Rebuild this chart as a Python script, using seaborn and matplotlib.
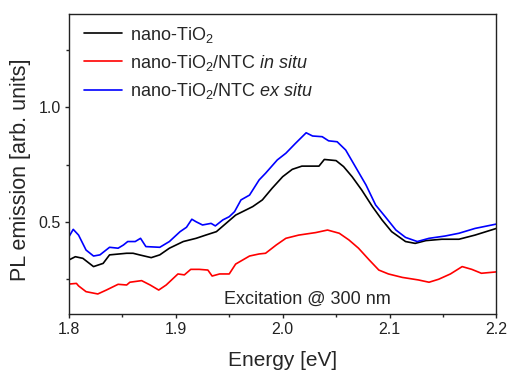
import matplotlib
matplotlib.use("Agg")
import matplotlib.pyplot as plt
from matplotlib.ticker import MultipleLocator
import seaborn as sns
import pandas as pd

# PL spectra
energy_tio2 = [1.800, 1.806, 1.813, 1.823, 1.832, 1.838, 1.854, 1.860, 1.866, 1.877,
               1.885, 1.894, 1.907, 1.919, 1.928, 1.938, 1.947, 1.956, 1.972, 1.981,
               1.990, 2.000, 2.009, 2.018, 2.034, 2.039, 2.050, 2.057, 2.065, 2.074,
               2.084, 2.093, 2.102, 2.115, 2.124, 2.134, 2.149, 2.165, 2.180, 2.200]
pl_tio2 = [0.335, 0.349, 0.342, 0.306, 0.320, 0.357, 0.364, 0.364, 0.357, 0.345,
           0.357, 0.386, 0.415, 0.429, 0.443, 0.458, 0.494, 0.530, 0.567, 0.596,
           0.646, 0.697, 0.729, 0.743, 0.743, 0.772, 0.767, 0.741, 0.697, 0.639,
           0.567, 0.509, 0.458, 0.415, 0.407, 0.419, 0.425, 0.425, 0.443, 0.472]

energy_insitu = [1.800, 1.807, 1.809, 1.816, 1.827, 1.835, 1.846, 1.854, 1.857, 1.868,
                 1.876, 1.884, 1.891, 1.902, 1.908, 1.914, 1.922, 1.930, 1.934, 1.941,
                 1.950, 1.956, 1.969, 1.978, 1.984, 1.994, 2.003, 2.015, 2.031, 2.042,
                 2.053, 2.062, 2.071, 2.081, 2.090, 2.099, 2.112, 2.127, 2.137, 2.146,
                 2.157, 2.168, 2.177, 2.186, 2.200]
pl_insitu = [0.230, 0.233, 0.222, 0.197, 0.187, 0.204, 0.229, 0.226, 0.238, 0.245,
             0.226, 0.204, 0.226, 0.274, 0.270, 0.294, 0.294, 0.291, 0.265, 0.274,
             0.274, 0.317, 0.352, 0.361, 0.364, 0.400, 0.429, 0.443, 0.454, 0.465,
             0.451, 0.422, 0.386, 0.335, 0.291, 0.274, 0.259, 0.248, 0.238, 0.251,
             0.274, 0.306, 0.294, 0.277, 0.283]

energy_exsitu = [1.800, 1.804, 1.809, 1.816, 1.823, 1.829, 1.838, 1.846, 1.851, 1.855,
                 1.862, 1.867, 1.872, 1.885, 1.894, 1.904, 1.910, 1.915, 1.919, 1.925,
                 1.933, 1.937, 1.944, 1.950, 1.955, 1.961, 1.969, 1.978, 1.984, 1.995,
                 2.003, 2.012, 2.022, 2.028, 2.037, 2.043, 2.051, 2.059, 2.068, 2.078,
                 2.087, 2.096, 2.106, 2.115, 2.126, 2.137, 2.152, 2.165, 2.180, 2.200]
pl_exsitu = [0.436, 0.468, 0.443, 0.378, 0.352, 0.357, 0.390, 0.386, 0.400, 0.415,
             0.415, 0.429, 0.393, 0.390, 0.415, 0.458, 0.477, 0.512, 0.501, 0.487,
             0.494, 0.483, 0.509, 0.523, 0.545, 0.596, 0.617, 0.683, 0.712, 0.770,
             0.799, 0.842, 0.888, 0.874, 0.871, 0.853, 0.849, 0.813, 0.741, 0.661,
             0.574, 0.523, 0.465, 0.433, 0.415, 0.429, 0.439, 0.451, 0.472, 0.491]

labels = ["nano-TiO$_2$",
          "nano-TiO$_2$/NTC $\\mathit{in\\ situ}$",
          "nano-TiO$_2$/NTC $\\mathit{ex\\ situ}$"]
colors = ["black", "#ff0000", "#0000ff"]

df = pd.concat([
    pd.DataFrame({"energy": energy_tio2, "pl": pl_tio2, "sample": labels[0]}),
    pd.DataFrame({"energy": energy_insitu, "pl": pl_insitu, "sample": labels[1]}),
    pd.DataFrame({"energy": energy_exsitu, "pl": pl_exsitu, "sample": labels[2]}),
])

sns.set_style("ticks")
plt.rcParams['font.family'] = ['Liberation Sans', 'DejaVu Sans']
plt.rcParams['mathtext.fontset'] = 'custom'
plt.rcParams['mathtext.rm'] = 'Liberation Sans'
plt.rcParams['mathtext.it'] = 'Liberation Sans:italic'
plt.rcParams['axes.edgecolor'] = '#222222'
plt.rcParams['axes.linewidth'] = 1.0

fig = plt.figure(figsize=(5.07, 3.72), dpi=100)
ax = fig.add_axes([0.136, 0.156, 0.843, 0.806])

sns.lineplot(data=df, x="energy", y="pl", hue="sample", palette=dict(zip(labels, colors)),
             estimator=None, sort=True, linewidth=1.2, ax=ax)

ax.set_xlim(1.8, 2.2)
ax.set_ylim(0.1, 1.404)
ax.xaxis.set_major_locator(MultipleLocator(0.1))
ax.xaxis.set_minor_locator(MultipleLocator(0.05))
ax.yaxis.set_major_locator(MultipleLocator(0.5))
ax.yaxis.set_minor_locator(MultipleLocator(0.25))
ax.tick_params(which='major', direction='out', length=3, width=1, labelsize=11.5,
               colors='#222222', pad=3)
ax.tick_params(which='minor', direction='out', length=2, width=1)
for s in ax.spines.values():
    s.set_visible(True)

ax.set_xlabel("Energy [eV]", fontsize=15, labelpad=10)
ax.set_ylabel("PL emission [arb. units]", fontsize=15.5)
ax.yaxis.set_label_coords(-0.089, 0.48)

ax.text(2.0235, 0.165, "Excitation @ 300 nm", fontsize=13, ha='center', va='center')

ax.legend(loc='upper left', frameon=False, fontsize=13, handlelength=2.1,
          handletextpad=0.45, labelspacing=0.45, borderaxespad=0.3,
          bbox_to_anchor=(0.005, 1.007))

fig.savefig("out.png", dpi=100)
